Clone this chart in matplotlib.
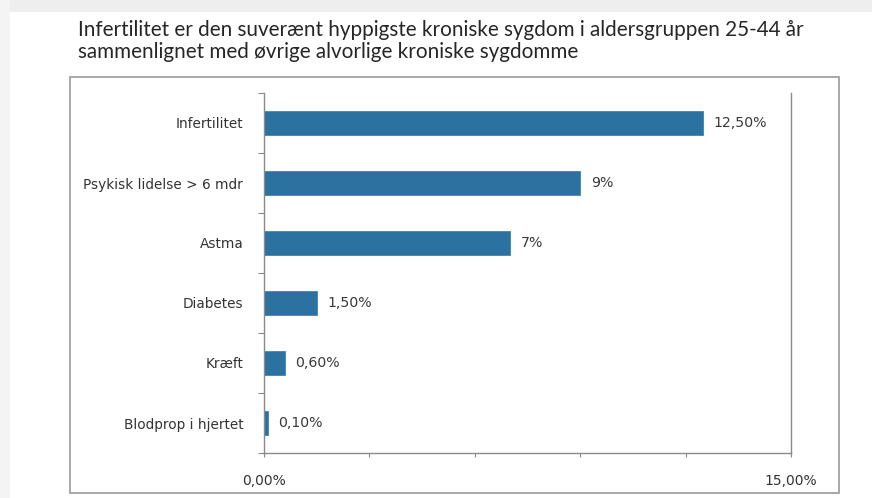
import matplotlib.pyplot as plt
from matplotlib.patches import Rectangle

# data
categories = ['Infertilitet', 'Psykisk lidelse > 6 mdr', 'Astma', 'Diabetes', 'Kræft', 'Blodprop i hjertet']
values = [12.5, 9, 7, 1.5, 0.6, 0.1]
value_labels = ['12,50%', '9%', '7%', '1,50%', '0,60%', '0,10%']
title_lines = ['Infertilitet er den suverænt hyppigste kroniske sygdom i aldersgruppen 25-44 år',
               'sammenlignet med øvrige alvorlige kroniske sygdomme']

W, H = 872, 498
fig = plt.figure(figsize=(W / 100, H / 100), dpi=100)

# faint grey page edges, like the scan
fig.patches.append(Rectangle((0, 1 - 12 / H), 1, 12 / H, transform=fig.transFigure,
                             facecolor='#eeeeee', edgecolor='none', zorder=0))
fig.patches.append(Rectangle((0, 0), 10 / W, 1, transform=fig.transFigure,
                             facecolor='#f4f4f4', edgecolor='none', zorder=0))

# outer chart frame
fig.patches.append(Rectangle((70 / W, 1 - 493 / H), (839 - 70) / W, (493 - 77) / H,
                             transform=fig.transFigure, facecolor='none',
                             edgecolor='#9a9a9a', linewidth=1.2, zorder=1))

for i, line in enumerate(title_lines):
    fig.text(78 / W, 1 - (30 + 22 * i) / H, line, fontsize=14.9, family='Lato',
             color='#262626', va='center', ha='left')

ax = fig.add_axes([264 / W, 1 - 453 / H, (791 - 264) / W, (453 - 93) / H])
y = list(range(len(categories)))
ax.barh(y, values, height=0.4, color='#2c72a0', edgecolor='#3a86b6', linewidth=0.6)
ax.set_ylim(len(categories) - 0.5, -0.5)
ax.set_xlim(0, 15)

for yi, v, lab in zip(y, values, value_labels):
    ax.text(v + 0.3, yi, lab, va='center', ha='left', fontsize=10.2,
            family='DejaVu Sans', color='#3a3a3a')

ax.set_yticks([i - 0.5 for i in range(len(categories) + 1)])
ax.set_yticklabels([])
ax.set_yticks(y, minor=True)
ax.set_yticklabels(categories, minor=True, fontsize=9.8, color='#333333')
ax.tick_params(axis='y', which='major', length=4, color='#8a8a8a', direction='out')
ax.tick_params(axis='y', which='minor', length=0, pad=15)

ax.set_xticks([0, 3, 6, 9, 12, 15])
ax.set_xticklabels(['0,00%', '', '', '', '', '15,00%'], fontsize=10, color='#333333')
ax.tick_params(axis='x', length=3, color='#8a8a8a', direction='out', pad=12)

for s in ['left', 'bottom', 'right']:
    ax.spines[s].set_color('#8a8a8a')
    ax.spines[s].set_linewidth(1.0)
ax.spines['top'].set_visible(False)

fig.savefig('out.png', dpi=100)
